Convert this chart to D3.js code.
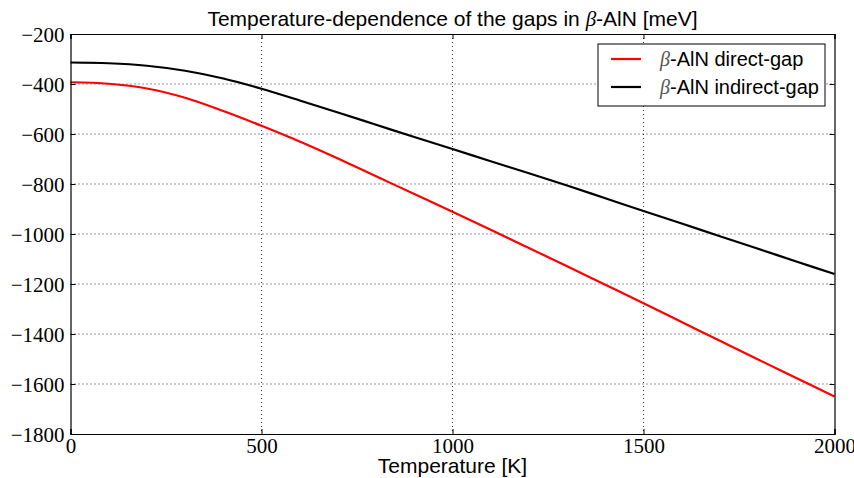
<!DOCTYPE html>
<html>
<head>
<meta charset="utf-8">
<script src="https://cdn.jsdelivr.net/npm/d3@7"></script>
<style>
  body { margin: 0; background: #fff; }
</style>
</head>
<body>
<div id="chart"></div>
<script>
// temperatures [K] and gaps [meV]
const temps = [0, 100, 200, 300, 400, 500, 600, 700, 800, 900, 1000,
  1100, 1200, 1300, 1400, 1500, 1600, 1700, 1800, 1900, 2000];
const directGap = [-393, -399, -418, -455, -508, -567, -630, -698, -769, -840, -911,
  -983, -1056, -1129, -1203, -1277, -1352, -1427, -1502, -1576, -1650];
const indirectGap = [-314, -317, -327, -347, -378, -419, -466, -514, -563, -612, -660,
  -709, -757, -806, -857, -908, -958, -1009, -1059, -1110, -1160];
const xTicks = [0, 500, 1000, 1500, 2000];
const yTicks = [-200, -400, -600, -800, -1000, -1200, -1400, -1600, -1800];

const width = 854;
const height = 478;
const margin = { top: 34, right: 19.5, bottom: 44, left: 70.5 };
const innerWidth = width - margin.left - margin.right;
const innerHeight = height - margin.top - margin.bottom;

const serif = "'Liberation Serif', 'DejaVu Serif', serif";
const sans = "'Liberation Sans', Arial, sans-serif";

const svg = d3.select("#chart")
  .append("svg")
  .attr("width", width)
  .attr("height", height);

const g = svg.append("g")
  .attr("transform", `translate(${margin.left},${margin.top})`);

const x = d3.scaleLinear().domain([0, 2000]).range([0, innerWidth]);
const y = d3.scaleLinear().domain([-1800, -200]).range([innerHeight, 0]);

// grid
g.selectAll(".vgrid")
  .data(xTicks.slice(1, -1))
  .join("line")
  .attr("x1", d => x(d)).attr("x2", d => x(d))
  .attr("y1", 0).attr("y2", innerHeight)
  .attr("stroke", "#333").attr("stroke-width", 1)
  .attr("stroke-dasharray", "1,3");

g.selectAll(".hgrid")
  .data(yTicks.slice(1, -1))
  .join("line")
  .attr("x1", 0).attr("x2", innerWidth)
  .attr("y1", d => y(d)).attr("y2", d => y(d))
  .attr("stroke", "#333").attr("stroke-width", 1)
  .attr("stroke-dasharray", "1,3");

// curves
const line = d3.line()
  .x((d, i) => x(temps[i]))
  .y(d => y(d))
  .curve(d3.curveCatmullRom.alpha(0.5));

g.append("path")
  .datum(directGap)
  .attr("fill", "none")
  .attr("stroke", "#ff0000")
  .attr("stroke-width", 2.2)
  .attr("d", line);

g.append("path")
  .datum(indirectGap)
  .attr("fill", "none")
  .attr("stroke", "#000")
  .attr("stroke-width", 2.2)
  .attr("d", line);

// axes, ticks inward on all sides
const fmt = d => String(d).replace("-", "\u2212");

const axBottom = g.append("g")
  .attr("transform", `translate(0,${innerHeight})`)
  .call(d3.axisBottom(x).tickValues(xTicks).tickSize(-5).tickPadding(4).tickFormat(d => d));
const axTop = g.append("g")
  .call(d3.axisTop(x).tickValues(xTicks).tickSize(-5).tickFormat(""));
const axLeft = g.append("g")
  .call(d3.axisLeft(y).tickValues(yTicks).tickSize(-5).tickPadding(6).tickFormat(fmt));
const axRight = g.append("g")
  .attr("transform", `translate(${innerWidth},0)`)
  .call(d3.axisRight(y).tickValues(yTicks).tickSize(-5).tickFormat(""));

[axBottom, axTop, axLeft, axRight].forEach(a => {
  a.attr("font-family", null).attr("font-size", null);
  a.select(".domain").attr("stroke", "#000").attr("stroke-width", 1.2);
  a.selectAll(".tick line").attr("stroke", "#000").attr("stroke-width", 1);
  a.selectAll(".tick text")
    .style("font-family", serif)
    .style("font-size", "21px")
    .attr("fill", "#000");
});
axLeft.selectAll(".tick text").attr("dy", "0.34em");

// title
const title = svg.append("text")
  .attr("x", margin.left + innerWidth / 2)
  .attr("y", 26)
  .attr("text-anchor", "middle")
  .style("font-family", sans)
  .style("font-size", "21px");
title.append("tspan").text("Temperature-dependence of the gaps in ");
title.append("tspan").style("font-family", serif).style("font-style", "italic").text("β");
title.append("tspan").text("-AlN [meV]");

// x label
svg.append("text")
  .attr("x", margin.left + innerWidth / 2)
  .attr("y", 473)
  .attr("text-anchor", "middle")
  .style("font-family", sans)
  .style("font-size", "21px")
  .text("Temperature [K]");

// legend
const legendItems = [
  { label: "-AlN direct-gap", color: "#ff0000" },
  { label: "-AlN indirect-gap", color: "#000" }
];
const legend = svg.append("g").attr("transform", "translate(598,44)");
legend.append("rect")
  .attr("width", 227).attr("height", 62)
  .attr("fill", "#fff").attr("stroke", "#000").attr("stroke-width", 1);

const items = legend.selectAll(".item")
  .data(legendItems)
  .join("g")
  .attr("transform", (d, i) => `translate(0,${15 + i * 28})`);
items.append("line")
  .attr("x1", 13).attr("x2", 43)
  .attr("stroke", d => d.color).attr("stroke-width", 2.2);
const lt = items.append("text")
  .attr("x", 62)
  .attr("dy", "0.35em")
  .style("font-family", sans)
  .style("font-size", "20px");
lt.append("tspan").style("font-family", serif).style("font-style", "italic").attr("fill", "#555").text("β");
lt.append("tspan").text(d => d.label);
</script>
</body>
</html>
